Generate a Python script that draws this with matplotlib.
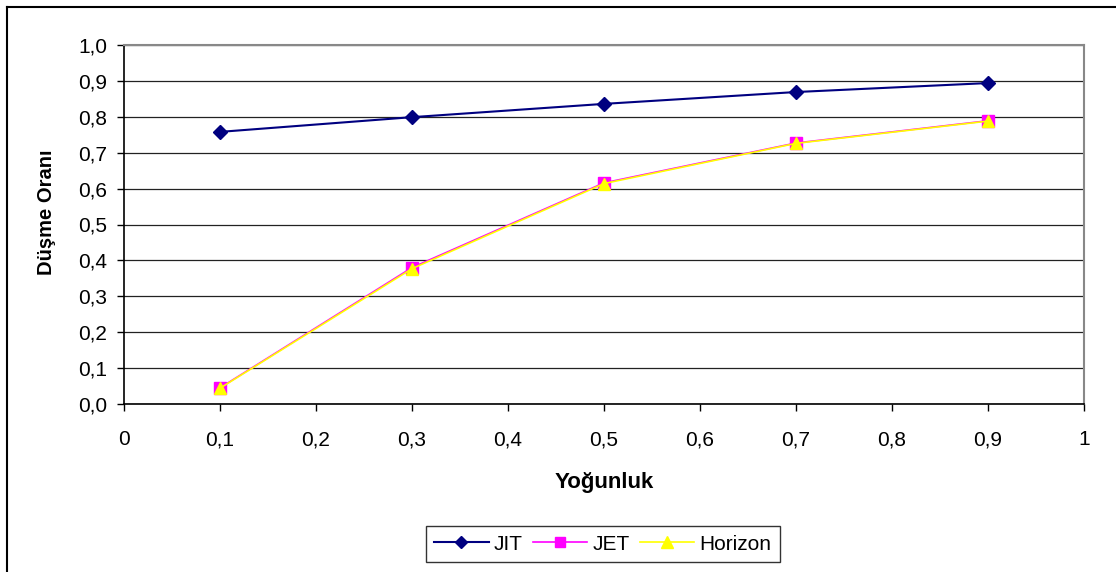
import matplotlib.pyplot as plt
from matplotlib.lines import Line2D
from matplotlib.ticker import FuncFormatter

plt.rcParams['font.family'] = ['Liberation Sans', 'DejaVu Sans']

# data
yogunluk = [0.1, 0.3, 0.5, 0.7, 0.9]
jit = [0.758, 0.799, 0.836, 0.869, 0.894]
jet = [0.045, 0.380, 0.616, 0.727, 0.789]
horizon = [0.044, 0.377, 0.614, 0.726, 0.788]

fig = plt.figure(figsize=(11.16, 5.72), dpi=100)
ax = fig.add_axes([124 / 1116, 1 - 404 / 572, 960 / 1116, 359 / 572])

ax.plot(yogunluk, jit, color='#000080', lw=1.5, marker='D', ms=7, label='JIT', zorder=3)
ax.plot(yogunluk, jet, color='#FF00FF', lw=1.2, marker='s', ms=8, label='JET', zorder=3)
ax.plot(yogunluk, horizon, color='#FFFF00', lw=1.2, marker='^', ms=9, label='Horizon', zorder=4)

ax.set_xlim(0, 1)
ax.set_ylim(0, 1)
ax.set_xticks([i / 10 for i in range(11)])
ax.set_yticks([i / 10 for i in range(11)])
ax.xaxis.set_major_formatter(FuncFormatter(lambda v, p: '0' if v == 0 else ('1' if v == 1 else f'{v:.1f}'.replace('.', ','))))
ax.yaxis.set_major_formatter(FuncFormatter(lambda v, p: f'{v:.1f}'.replace('.', ',')))
ax.tick_params(labelsize=15, direction='out', length=5, width=1, colors='#000000')
ax.tick_params(axis='x', pad=14)
ax.tick_params(axis='y', pad=7)
ax.yaxis.grid(True, color='#222222', lw=0.9)
ax.set_axisbelow(True)

for s in ['left', 'bottom']:
    ax.spines[s].set_color('#000000')
    ax.spines[s].set_linewidth(1.2)
for s in ['top', 'right']:
    ax.spines[s].set_color('#888888')
    ax.spines[s].set_linewidth(1.5)

ax.set_xlabel('Yoğunluk', fontsize=16, fontweight='bold', labelpad=16)
ax.set_ylabel('Düşme Oranı', fontsize=14.5, fontweight='bold')
ax.yaxis.set_label_coords(-0.071, 0.535)

leg = fig.legend(loc='center', bbox_to_anchor=(603 / 1116, 1 - 544 / 572), ncol=3, fontsize=15,
                 frameon=True, fancybox=False, edgecolor='#000000', handlelength=2.6,
                 columnspacing=0.5, handletextpad=0.25, borderpad=0.4, markerscale=0.9)
leg.get_frame().set_linewidth(1.0)

# outer chart border (only top and left visible)
fig.add_artist(Line2D([7 / 1116, 1], [1 - 7 / 572, 1 - 7 / 572], color='#000000', lw=1.5, transform=fig.transFigure))
fig.add_artist(Line2D([7 / 1116, 7 / 1116], [0, 1 - 7 / 572], color='#000000', lw=1.5, transform=fig.transFigure))

fig.savefig('out.png', dpi=100)
